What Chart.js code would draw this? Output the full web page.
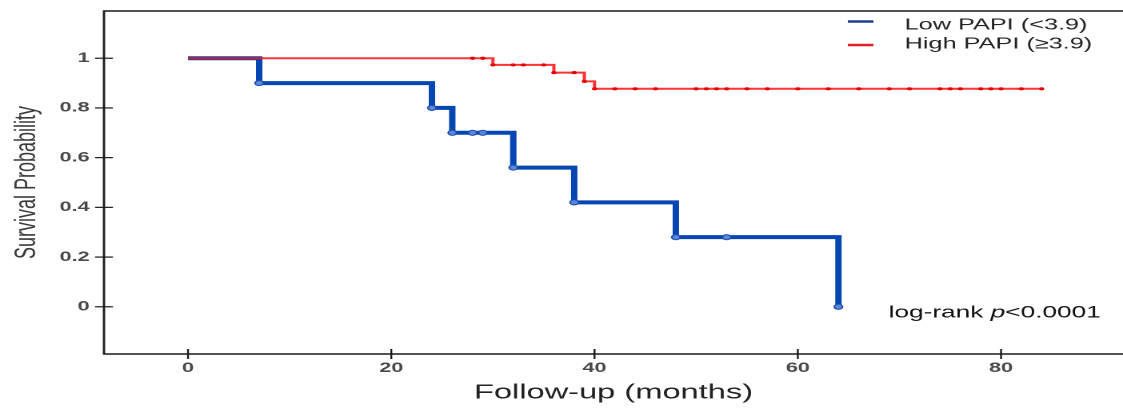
<!DOCTYPE html>
<html>
<head>
<meta charset="utf-8">
<title>Survival by PAPI</title>
<script src="https://cdn.jsdelivr.net/npm/chart.js@4/dist/chart.umd.min.js"></script>
<style>
  html, body { margin: 0; padding: 0; background: #fff; overflow: hidden; }
  #wrap { width: 702px; height: 412px; transform: scaleX(1.5997); transform-origin: 0 0; }
</style>
</head>
<body>
<div id="wrap"><canvas id="km" width="702" height="412"></canvas></div>
<script>
// Kaplan-Meier estimates (months, survival)
const lowTimes = [0, 7, 24, 26, 28, 29, 32, 38, 48, 53, 64];
const lowSurv = [1, 0.9, 0.8, 0.7, 0.7, 0.7, 0.56, 0.42, 0.28, 0.28, 0];

const highTimes = [0, 28, 29, 30, 32, 33, 35, 36, 38, 39, 40, 42, 44, 46, 50, 51, 52, 53, 55, 57,
  60, 63, 66, 69, 71, 74, 75, 76, 78, 79, 80, 82, 84];
const highSurv = [1, 1, 1, 0.973, 0.973, 0.973, 0.973, 0.942, 0.942, 0.907, 0.877, 0.877, 0.877,
  0.877, 0.877, 0.877, 0.877, 0.877, 0.877, 0.877, 0.877, 0.877, 0.877, 0.877, 0.877, 0.877,
  0.877, 0.877, 0.877, 0.877, 0.877, 0.877, 0.877];

const xTicks = [0, 20, 40, 60, 80];
const yTicks = [0, 0.2, 0.4, 0.6, 0.8, 1];
const yTickLabels = ["0", "0.2", "0.4", "0.6", "0.8", "1"];

const seriesNames = ["Low PAPI (<3.9)", "High PAPI (\u22653.9)"];
const pValueText = ["log-rank ", "p", "<0.0001"];

function toPoints(times, surv) {
  return times.map((t, i) => ({ x: t, y: surv[i] }));
}

// keep the plot box exactly where the figure has it
function fixBox(size, key) {
  return scale => {
    scale[key] = size;
    scale.paddingTop = 0;
    scale.paddingBottom = 0;
    scale.paddingLeft = 0;
    scale.paddingRight = 0;
  };
}

const framePlugin = {
  id: "frame",
  afterDraw(chart) {
    const ctx = chart.ctx;
    const area = chart.chartArea;
    const xs = chart.scales.x;
    const ys = chart.scales.y;

    ctx.save();
    ctx.strokeStyle = "#1a1a1a";
    ctx.lineWidth = 1.4;
    ctx.beginPath();
    ctx.moveTo(area.right, area.top);
    ctx.lineTo(area.left, area.top);
    ctx.lineTo(area.left, area.bottom);
    ctx.lineTo(area.right, area.bottom);
    ctx.stroke();

    // tick marks crossing the axes
    ctx.lineWidth = 1.2;
    yTicks.forEach(v => {
      const py = ys.getPixelForValue(v);
      ctx.beginPath();
      ctx.moveTo(area.left - 5.6, py);
      ctx.lineTo(area.left + 5.6, py);
      ctx.stroke();
    });
    xTicks.forEach(v => {
      const px = xs.getPixelForValue(v);
      ctx.beginPath();
      ctx.moveTo(px, area.bottom - 5);
      ctx.lineTo(px, area.bottom + 5);
      ctx.stroke();
    });

    // legend
    const legendColors = ["#1d3d8f", "#e8202a"];
    const legendY = [21.5, 45];
    ctx.font = "15.8px 'Liberation Sans', Arial, sans-serif";
    ctx.textBaseline = "middle";
    ctx.textAlign = "left";
    seriesNames.forEach((name, i) => {
      ctx.strokeStyle = legendColors[i];
      ctx.lineWidth = 2.5;
      ctx.beginPath();
      ctx.moveTo(530, legendY[i]);
      ctx.lineTo(546, legendY[i]);
      ctx.stroke();
      ctx.fillStyle = "#222";
      ctx.fillText(name, 565.5, legendY[i] + (i === 0 ? 3.5 : -1));
    });

    // log-rank annotation
    let tx = 555.5;
    const ty = 313;
    ctx.fillStyle = "#111";
    pValueText.forEach((part, i) => {
      ctx.font = (i === 1 ? "italic " : "") + "16.4px 'Liberation Sans', Arial, sans-serif";
      ctx.fillText(part, tx, ty);
      tx += ctx.measureText(part).width;
    });
    ctx.restore();
  }
};

new Chart(document.getElementById("km"), {
  type: "line",
  data: {
    datasets: [
      {
        label: seriesNames[1],
        data: toPoints(highTimes, highSurv),
        stepped: true,
        borderColor: "rgba(255, 18, 18, 0.86)",
        borderWidth: 2,
        pointRadius: highTimes.map((t, i) => (i === 0 ? 0 : 1.6)),
        pointBackgroundColor: "#e40000",
        pointBorderColor: "#e40000",
        pointBorderWidth: 0,
        fill: false,
        order: 1
      },
      {
        label: seriesNames[0],
        data: toPoints(lowTimes, lowSurv),
        stepped: true,
        borderColor: "#0646b3",
        borderWidth: 4,
        pointRadius: lowTimes.map((t, i) => (i === 0 ? 0 : 2.6)),
        pointBackgroundColor: "#5b87d8",
        pointBorderColor: "#1c4fae",
        pointBorderWidth: 1,
        fill: false,
        order: 2
      }
    ]
  },
  options: {
    responsive: false,
    devicePixelRatio: 2,
    animation: false,
    events: [],
    layout: { autoPadding: false, padding: { top: 11, right: 0, bottom: 0, left: 0 } },
    plugins: {
      legend: { display: false },
      tooltip: { enabled: false }
    },
    scales: {
      x: {
        type: "linear",
        min: -8.27,
        max: 92,
        afterFit: fixBox(58, "height"),
        afterBuildTicks: scale => { scale.ticks = xTicks.map(v => ({ value: v })); },
        grid: { display: false, drawTicks: false },
        border: { display: false },
        ticks: {
          padding: 6,
          color: "#4a4a4a",
          font: { family: "'Liberation Sans', Arial, sans-serif", size: 13.5, weight: "bold" },
          callback: v => String(v)
        },
        title: {
          display: true,
          text: "Follow-up (months)",
          color: "#222",
          font: { family: "'Liberation Sans', Arial, sans-serif", size: 20.4 },
          padding: { top: 0, bottom: 7 }
        }
      },
      y: {
        type: "linear",
        min: -0.19,
        max: 1.19,
        afterFit: fixBox(65, "width"),
        afterBuildTicks: scale => { scale.ticks = yTicks.map(v => ({ value: v })); },
        grid: { display: false, drawTicks: false },
        border: { display: false },
        ticks: {
          padding: 9,
          color: "#4a4a4a",
          font: { family: "'Liberation Sans', Arial, sans-serif", size: 13.5, weight: "bold" },
          callback: v => yTickLabels[yTicks.indexOf(v)]
        },
        title: {
          display: true,
          text: "Survival Probability",
          color: "#3a3a3a",
          font: { family: "'Liberation Sans', Arial, sans-serif", size: 18 },
          padding: { top: 6, bottom: 0 }
        }
      }
    }
  },
  plugins: [framePlugin]
});
</script>
</body>
</html>
